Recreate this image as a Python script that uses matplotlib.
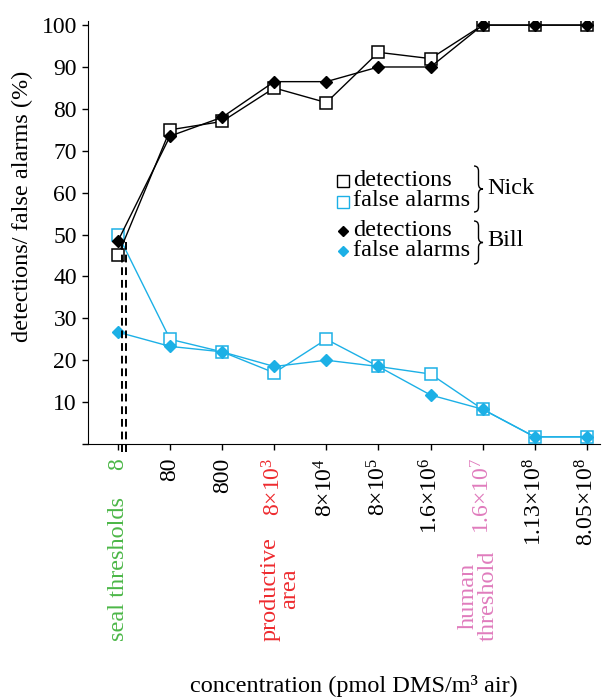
"""Detections / false alarms vs DMS concentration."""

import matplotlib.pyplot as plt
from matplotlib.path import Path
from matplotlib.patches import PathPatch

plt.rcParams["font.family"] = ["Liberation Serif", "DejaVu Serif"]
plt.rcParams["mathtext.fontset"] = "custom"
plt.rcParams["mathtext.rm"] = "Liberation Serif"
plt.rcParams["mathtext.it"] = "Liberation Serif:italic"

concentrations = ["8", "80", "800", r"8$\times$10$^{3}$", r"8$\times$10$^{4}$",
                  r"8$\times$10$^{5}$", r"1.6$\times$10$^{6}$", r"1.6$\times$10$^{7}$",
                  r"1.13$\times$10$^{8}$", r"8.05$\times$10$^{8}$"]
label_colors = ["#4cb748", "black", "black", "#ee2b2f", "black",
                "black", "black", "#e07cbd", "black", "black"]

nick_detections = [45, 75, 77, 85, 81.5, 93.5, 92, 100, 100, 100]
nick_false_alarms = [50, 25, 22, 17, 25, 18.5, 16.7, 8.3, 1.7, 1.7]
bill_detections = [48.5, 73.5, 78, 86.5, 86.5, 90, 90, 100, 100, 100]
bill_false_alarms = [26.7, 23.3, 22, 18.5, 20, 18.5, 11.7, 8.3, 1.7, 1.7]

seal_thresholds_x = [0.07, 0.15]
seal_thresholds_top = 48.3

BLUE = "#1cb0e6"
W, H = 604, 697


def fp(x, y):
    """Pixel position -> figure fraction."""
    return x / W, 1 - y / H


def brace(fig, x, top, bottom, w=9):
    mid = (top + bottom) / 2
    xm = x + w / 2
    pts = [(x, top), (xm, top), (xm, top + 5), (xm, mid - 5), (xm, mid), (x + w, mid),
           (xm, mid), (xm, mid + 5), (xm, bottom - 5), (xm, bottom), (x, bottom)]
    codes = [Path.MOVETO, Path.CURVE3, Path.CURVE3, Path.LINETO, Path.CURVE3, Path.CURVE3,
             Path.CURVE3, Path.CURVE3, Path.LINETO, Path.CURVE3, Path.CURVE3]
    path = Path([fp(px, py) for px, py in pts], codes)
    fig.add_artist(PathPatch(path, transform=fig.transFigure, fill=False, lw=1.0, color="black"))


fig = plt.figure(figsize=(6.04, 6.97), dpi=100)
ax = fig.add_axes([0.1457, 0.363, 0.8473, 0.607])

x = list(range(len(concentrations)))
sq = dict(marker="s", markersize=9, markerfacecolor="white", markeredgewidth=1.1)
dm = dict(marker="D", markersize=6.5, markeredgewidth=1)

ax.plot(x, nick_false_alarms, color=BLUE, lw=1.0, markeredgecolor=BLUE, **sq)
ax.plot(x, bill_false_alarms, color=BLUE, lw=1.0, markerfacecolor=BLUE,
        markeredgecolor=BLUE, **dm)
ax.plot(x, nick_detections, color="black", lw=1.0, markeredgecolor="black", **sq)
ax.plot(x, bill_detections, color="black", lw=1.0, markerfacecolor="black",
        markeredgecolor="black", **dm)

for sx in seal_thresholds_x:
    ax.plot([sx, sx], [seal_thresholds_top, -2.2], color="black", lw=1.4,
            dashes=(4, 2.5), clip_on=False)

ax.set_xlim(-0.576, 9.25)
ax.set_ylim(0, 101)
ax.set_yticks(range(0, 101, 10))
ax.set_yticklabels([""] + [str(v) for v in range(10, 101, 10)])
ax.set_xticks(x)
ax.set_xticklabels(concentrations, rotation=90, va="top")
for lab, c in zip(ax.get_xticklabels(), label_colors):
    lab.set_color(c)
ax.tick_params(axis="both", labelsize=17, direction="out", length=4, width=1)
ax.tick_params(axis="x", pad=6)
ax.tick_params(axis="y", pad=4)
ax.spines["top"].set_visible(False)
ax.spines["right"].set_visible(False)

# legend drawn by hand, with braces
legend_rows = [
    (181, "detections", dict(marker="s", markersize=8, markerfacecolor="white",
                             markeredgecolor="black", markeredgewidth=1)),
    (202, "false alarms", dict(marker="s", markersize=8, markerfacecolor="white",
                               markeredgecolor=BLUE, markeredgewidth=1)),
    (231, "detections", dict(marker="D", markersize=5, markerfacecolor="black",
                             markeredgecolor="black", markeredgewidth=1)),
    (251, "false alarms", dict(marker="D", markersize=5, markerfacecolor=BLUE,
                               markeredgecolor=BLUE, markeredgewidth=1)),
]
for py, txt, mk in legend_rows:
    mx, my = fp(343, py)
    fig.add_artist(plt.Line2D([mx], [my], transform=fig.transFigure, linestyle="none", **mk))
    fig.text(*fp(353, py - 1), txt, fontsize=17.5, va="center", ha="left")

brace(fig, 474, 166, 212)
brace(fig, 474, 221, 264)
fig.text(*fp(487, 188), "Nick", fontsize=17.5, va="center", ha="left")
fig.text(*fp(487, 240), "Bill", fontsize=17.5, va="center", ha="left")

fig.text(*fp(118, 641), "seal thresholds", color="#4cb748", fontsize=17.5,
         rotation=90, ha="center", va="bottom")
fig.text(*fp(280, 641), "productive\narea", color="#ee2b2f", fontsize=17.5,
         rotation=90, ha="center", va="bottom", multialignment="center", linespacing=0.95)
fig.text(*fp(478, 641), "human\nthreshold", color="#e07cbd", fontsize=17.5,
         rotation=90, ha="center", va="bottom", multialignment="center", linespacing=0.95)

fig.text(*fp(22, 206), "detections/ false alarms (%)", fontsize=17.5, rotation=90,
         ha="center", va="center")
fig.text(*fp(354, 692), "concentration (pmol DMS/m\u00b3 air)", fontsize=17.5,
         ha="center", va="baseline")

fig.savefig("out.png", dpi=100)
